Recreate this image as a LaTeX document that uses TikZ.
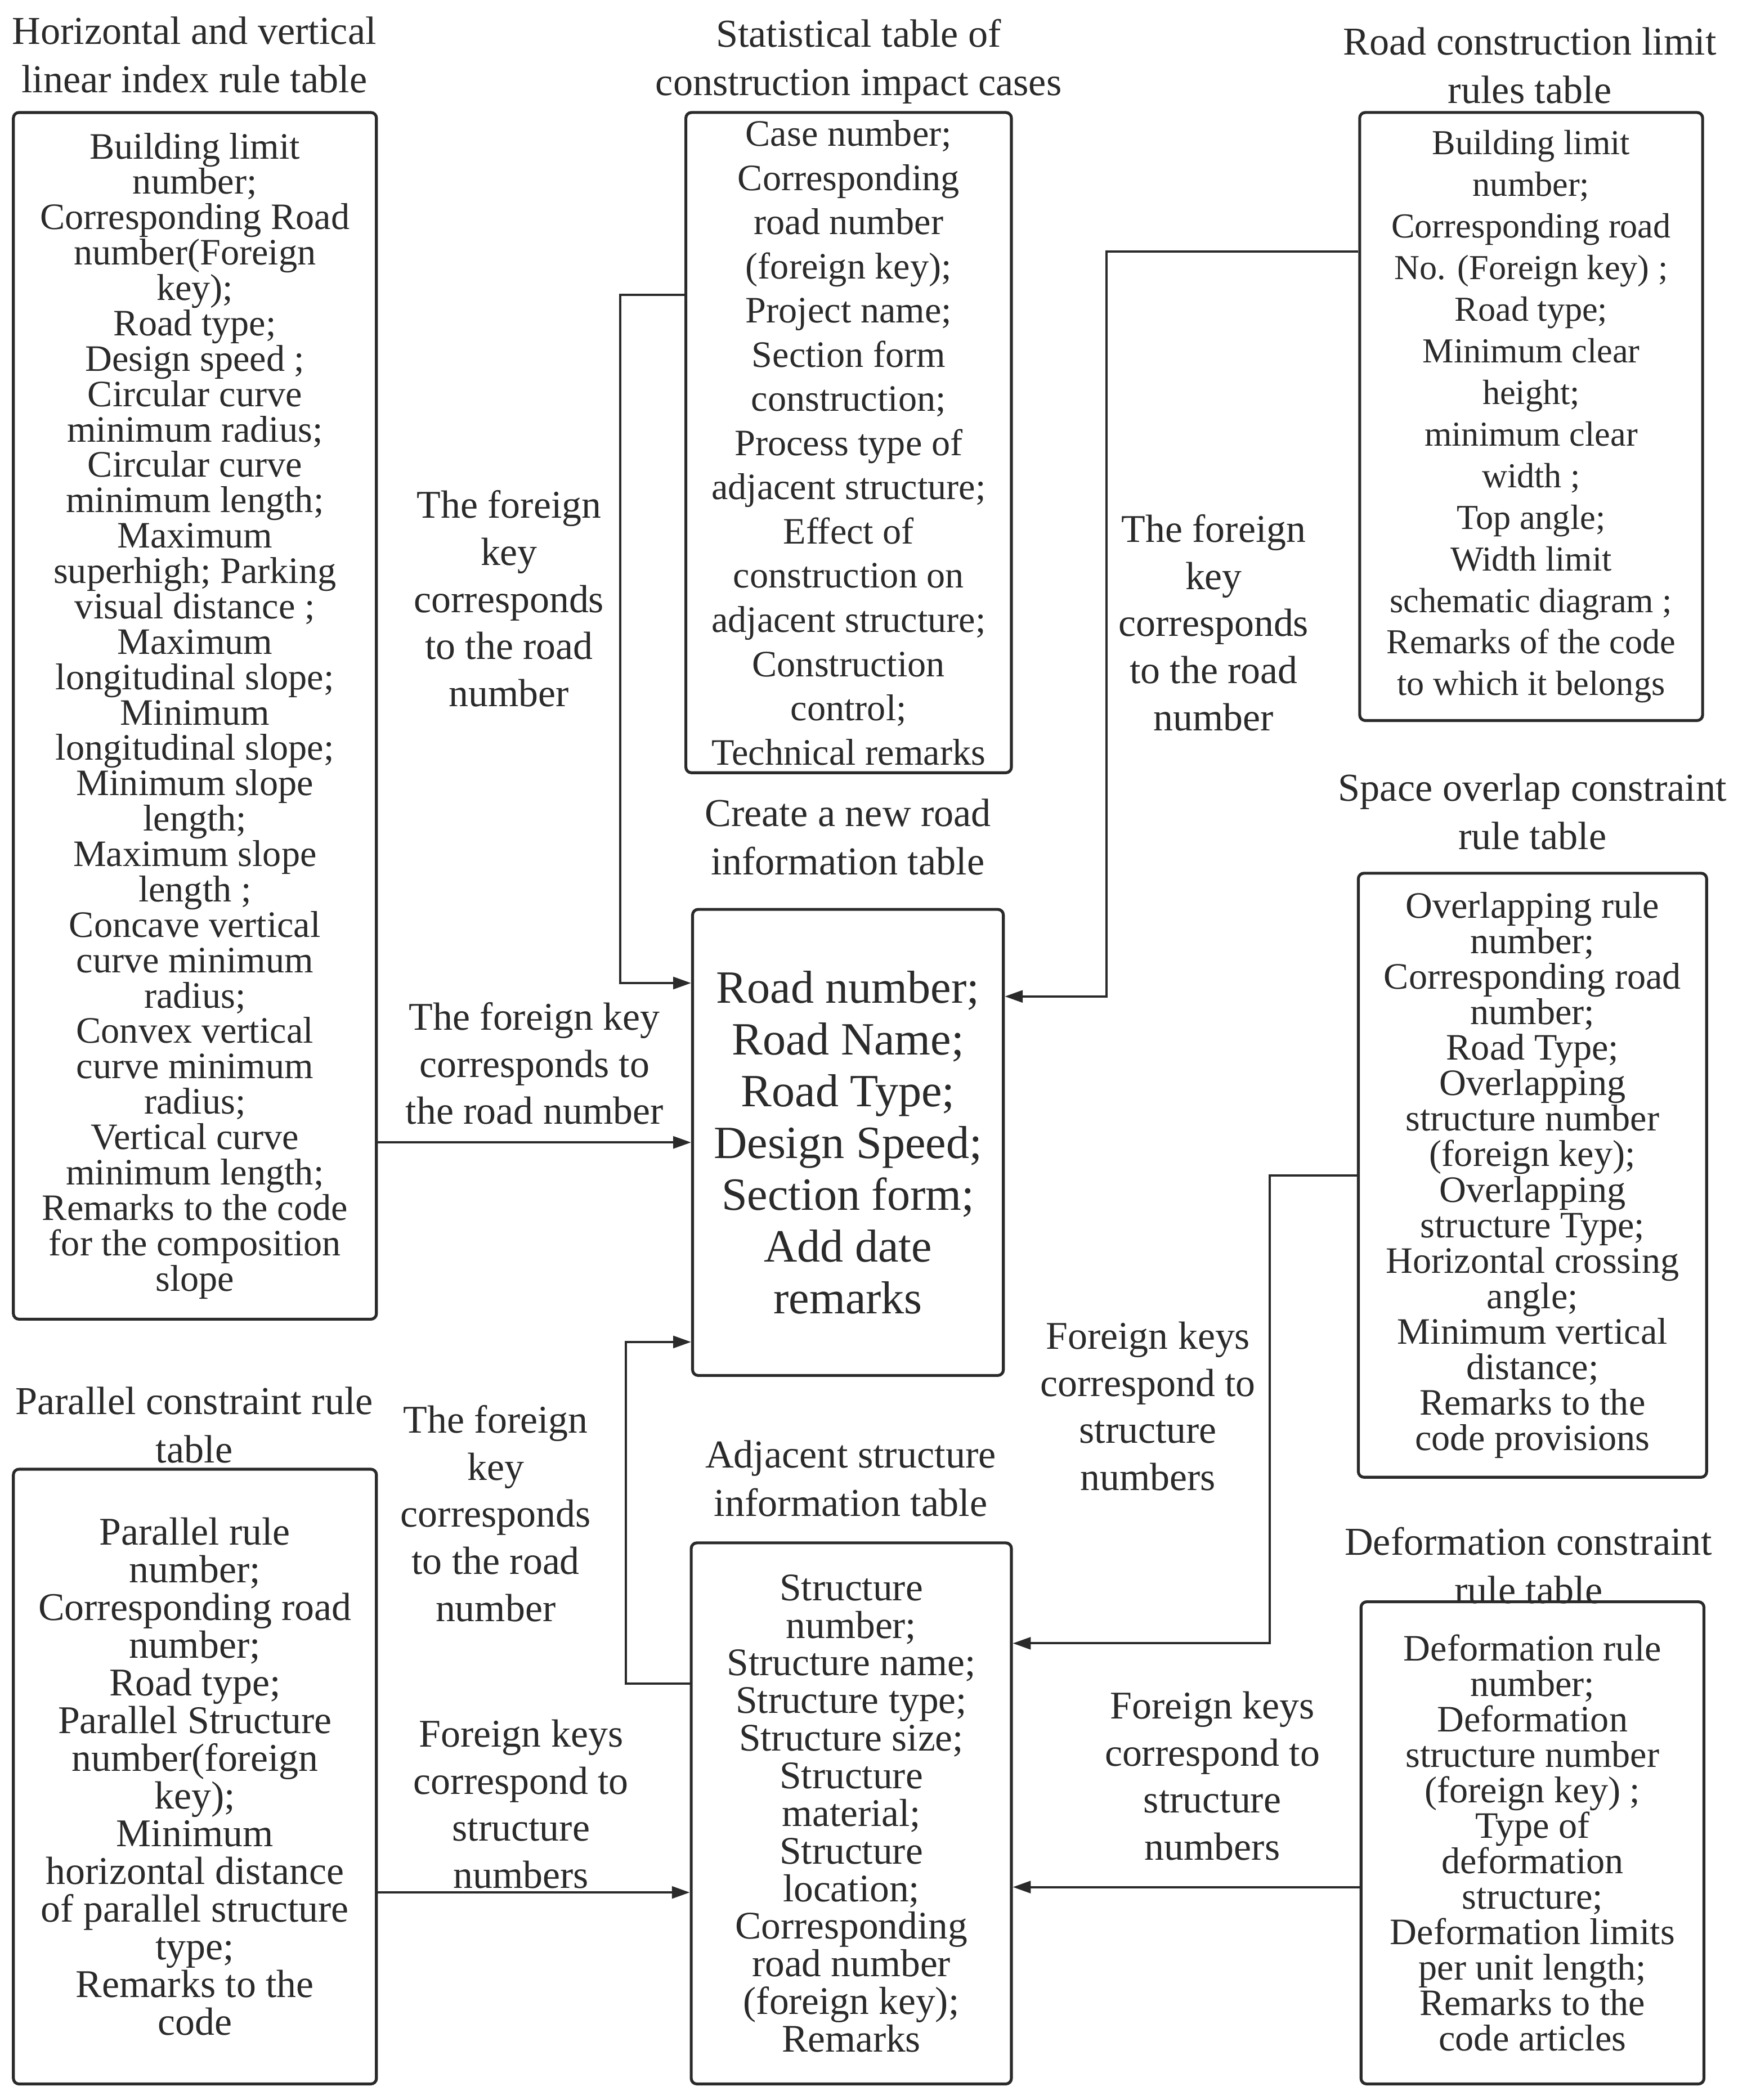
\documentclass[tikz,border=0pt]{standalone}
\usepackage{fontspec}
\setmainfont{Liberation Serif}
\usetikzlibrary{arrows.meta}
\definecolor{ink}{HTML}{2A2A2A}
\newcommand{\fsz}[2]{\fontsize{#1}{#2}\selectfont}
\tikzset{
  tbl/.style={draw=ink, line width=1.3pt, rounded corners=2.5pt, align=center, inner sep=0pt, text=ink},
  ttl/.style={align=center, text=ink, font=\fsz{17.7pt}{21.6pt}},
  lbl/.style={align=center, text=ink, font=\fsz{17.6pt}{21.1pt}},
  conn/.style={draw=ink, line width=1pt, -{Triangle[length=8pt,width=5.4pt]}},
}
\begin{document}
\begin{tikzpicture}[x=0.6pt,y=-0.6pt]
\path[use as bounding box, fill=white] (0,0) rectangle (1297,1568);

% titles
\node[ttl] (t1) at (145,41) {Horizontal and vertical\\linear index rule table};
\node[ttl] (t2) at (641,46) {Statistical table of\\construction impact cases};
\node[ttl] (t3) at (1142,49) {Road construction limit\\rules table};
\node[ttl] (t4) at (633,625) {Create a new road\\information table};
\node[ttl] (t5) at (1144,606) {Space overlap constraint\\rule table};
\node[ttl] (t6) at (145,1064) {Parallel constraint rule\\table};
\node[ttl] (t7) at (635,1104) {Adjacent structure\\information table};
\node[ttl] (t8) at (1141,1169) {Deformation constraint\\rule table};

% tables
\node[tbl, minimum width=162.6pt, minimum height=540.6pt, font=\fsz{16.7pt}{15.85pt}] (lb) at (145.5,534.5)
 {Building limit\\number;\\Corresponding Road\\number(Foreign\\key);\\Road type;\\Design speed ;\\Circular curve\\minimum radius;\\Circular curve\\minimum length;\\Maximum\\superhigh; Parking\\visual distance ;\\Maximum\\longitudinal slope;\\Minimum\\longitudinal slope;\\Minimum slope\\length;\\Maximum slope\\length ;\\Concave vertical\\curve minimum\\radius;\\Convex vertical\\curve minimum\\radius;\\Vertical curve\\minimum length;\\Remarks to the code\\for the composition\\slope};

\node[tbl, minimum width=145.8pt, minimum height=295.8pt, font=\fsz{16.7pt}{19.8pt}] (st) at (633.5,330.5)
 {Case number;\\Corresponding\\road number\\(foreign key);\\Project name;\\Section form\\construction;\\Process type of\\adjacent structure;\\Effect of\\construction on\\adjacent structure;\\Construction\\control;\\Technical remarks};

\node[tbl, minimum width=153.6pt, minimum height=272.4pt, font=\fsz{15.7pt}{18.65pt}] (rc) at (1143,311)
 {Building limit\\number;\\Corresponding road\\No. (Foreign key) ;\\Road type;\\Minimum clear\\height;\\minimum clear\\width ;\\Top angle;\\Width limit\\schematic diagram ;\\Remarks of the code\\to which it belongs};

\node[tbl, minimum width=139.2pt, minimum height=208.8pt, font=\fsz{20.7pt}{23.2pt}] (ce) at (633,853)
 {Road number;\\Road Name;\\Road Type;\\Design Speed;\\Section form;\\Add date\\remarks};

\node[tbl, minimum width=156pt, minimum height=270.6pt, font=\fsz{16.7pt}{15.9pt}] (so) at (1144,877.5)
 {Overlapping rule\\number;\\Corresponding road\\number;\\Road Type;\\Overlapping\\structure number\\(foreign key);\\Overlapping\\structure Type;\\Horizontal crossing\\angle;\\Minimum vertical\\distance;\\Remarks to the\\code provisions};

\node[tbl, minimum width=162.6pt, minimum height=275.4pt, font=\fsz{17.6pt}{16.9pt}] (pa) at (145.5,1326.5)
 {Parallel rule\\number;\\Corresponding road\\number;\\Road type;\\Parallel Structure\\number(foreign\\key);\\Minimum\\horizontal distance\\of parallel structure\\type;\\Remarks to the\\code};

\node[tbl, minimum width=143.4pt, minimum height=242.4pt, font=\fsz{17.5pt}{16.85pt}] (ad) at (635.5,1354)
 {Structure\\number;\\Structure name;\\Structure type;\\Structure size;\\Structure\\material;\\Structure\\location;\\Corresponding\\road number\\(foreign key);\\Remarks};

\node[tbl, minimum width=153.6pt, minimum height=216pt, font=\fsz{16.7pt}{15.9pt}] (de) at (1144,1376)
 {Deformation rule\\number;\\Deformation\\structure number\\(foreign key) ;\\Type of\\deformation\\structure;\\Deformation limits\\per unit length;\\Remarks to the\\code articles};

% connector labels
\node[lbl] (l1) at (380,447) {The foreign\\key\\corresponds\\to the road\\number};
\node[lbl] (l2) at (906,465) {The foreign\\key\\corresponds\\to the road\\number};
\node[lbl] (l3) at (399,794) {The foreign key\\corresponds to\\the road number};
\node[lbl] (l4) at (370,1130) {The foreign\\key\\corresponds\\to the road\\number};
\node[lbl] (l5) at (857,1050) {Foreign keys\\correspond to\\structure\\numbers};
\node[lbl] (l6) at (905,1326) {Foreign keys\\correspond to\\structure\\numbers};
\node[lbl] (l7) at (389,1347) {Foreign keys\\correspond to\\structure\\numbers};

% bend points
\coordinate (j1a) at (463,220);
\coordinate (j1b) at (463,734);
\coordinate (j2a) at (826,188);
\coordinate (j2b) at (826,744);
\coordinate (j4a) at (467,1257);
\coordinate (j4b) at (467,1002);
\coordinate (j5b) at (948,1227);
\coordinate (j6) at (880,1409);
\coordinate (j7) at (400,1413);

% connectors
\draw[conn] (st.west |- j1a) -| (j1b) -- (ce.west |- j1b);
\draw[conn] (rc.west |- j2a) -| (j2b) -- (ce.east |- j2b);
\draw[conn] (lb.east |- ce.west) -- (ce.west);
\draw[conn] (ad.west |- j4a) -| (j4b) -- (ce.west |- j4b);
\draw[conn] (so.west) -| (j5b) -- (ad.east |- j5b);
\draw[conn] (de.west |- j6) -- (ad.east |- j6);
\draw[conn] (pa.east |- j7) -- (ad.west |- j7);
\end{tikzpicture}
\end{document}
